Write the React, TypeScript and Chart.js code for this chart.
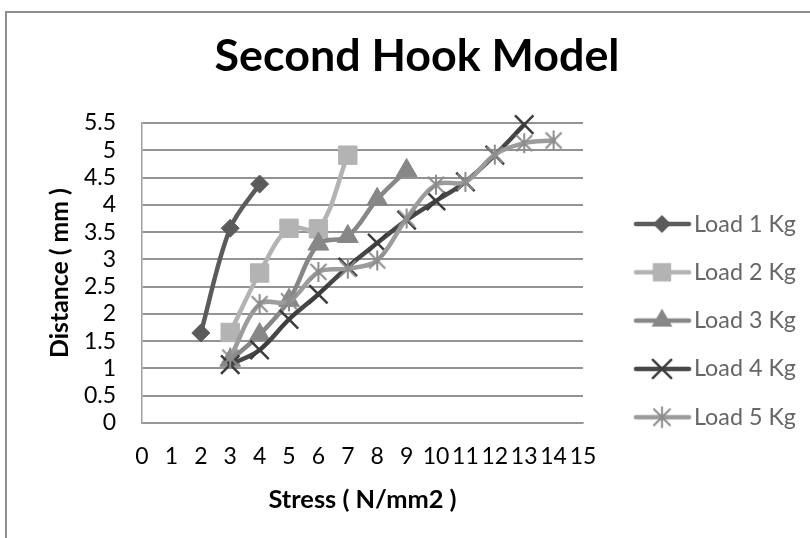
import React, { useEffect, useRef } from 'react';
import { Chart, registerables } from 'chart.js';

Chart.register(...registerables);

const chartTitle = 'Second Hook Model';
const xAxisTitle = 'Stress ( N/mm2 )';
const yAxisTitle = 'Distance ( mm )';

const stressTicks = [0, 1, 2, 3, 4, 5, 6, 7, 8, 9, 10, 11, 12, 13, 14, 15];
const distanceTicks = [0, 0.5, 1, 1.5, 2, 2.5, 3, 3.5, 4, 4.5, 5, 5.5];

const seriesNames = ['Load 1 Kg', 'Load 2 Kg', 'Load 3 Kg', 'Load 4 Kg', 'Load 5 Kg'];

const load1Stress = [2, 3, 4];
const load1Distance = [1.65, 3.57, 4.38];
const load2Stress = [3, 4, 5, 6, 7];
const load2Distance = [1.66, 2.75, 3.57, 3.56, 4.91];
const load3Stress = [3, 4, 5, 6, 7, 8, 9];
const load3Distance = [1.15, 1.62, 2.25, 3.28, 3.42, 4.1, 4.63];
const load4Stress = [3, 4, 5, 6, 7, 8, 9, 10, 11, 12, 13];
const load4Distance = [1.07, 1.34, 1.9, 2.36, 2.86, 3.3, 3.72, 4.07, 4.42, 4.91, 5.47];
const load5Stress = [3, 4, 5, 6, 7, 8, 9, 10, 11, 12, 13, 14];
const load5Distance = [1.2, 2.18, 2.23, 2.77, 2.83, 2.98, 3.75, 4.37, 4.42, 4.92, 5.13, 5.18];

const seriesStress = [load1Stress, load2Stress, load3Stress, load4Stress, load5Stress];
const seriesDistance = [load1Distance, load2Distance, load3Distance, load4Distance, load5Distance];

const lineColors = ['#5b5b5b', '#b3b3b3', '#878787', '#474747', '#9c9c9c'];
const markerColors = ['#5b5b5b', '#b3b3b3', '#878787', '#3c3c3c', '#8c8c8c'];
const markerKinds = ['diamond', 'square', 'triangle', 'x', 'asterisk'];

const FONT = 'Lato';
const W = 810;
const H = 538;
const plotLeft = 142;
const plotRight = 583;
const plotTop = 123;
const plotBottom = 423;

function drawMarker(ctx: CanvasRenderingContext2D, kind: string, cx: number, cy: number, color: string) {
  ctx.save();
  ctx.fillStyle = color;
  ctx.strokeStyle = color;
  ctx.beginPath();
  if (kind === 'diamond') {
    const r = 9;
    ctx.moveTo(cx - r, cy);
    ctx.lineTo(cx, cy - r);
    ctx.lineTo(cx + r, cy);
    ctx.lineTo(cx, cy + r);
    ctx.closePath();
    ctx.fill();
  } else if (kind === 'square') {
    const s = 13 * Math.SQRT1_2;
    ctx.rect(cx - s, cy - s, 2 * s, 2 * s);
    ctx.fill();
  } else if (kind === 'triangle') {
    const r = 12;
    let a = 0;
    ctx.moveTo(cx + Math.sin(a) * r, cy - Math.cos(a) * r);
    a += (2 * Math.PI) / 3;
    ctx.lineTo(cx + Math.sin(a) * r, cy - Math.cos(a) * r);
    a += (2 * Math.PI) / 3;
    ctx.lineTo(cx + Math.sin(a) * r, cy - Math.cos(a) * r);
    ctx.closePath();
    ctx.fill();
  } else if (kind === 'x') {
    const h = 13 * Math.SQRT1_2;
    ctx.lineWidth = 2.5;
    ctx.moveTo(cx - h, cy - h);
    ctx.lineTo(cx + h, cy + h);
    ctx.moveTo(cx + h, cy - h);
    ctx.lineTo(cx - h, cy + h);
    ctx.stroke();
  } else {
    const h = 8;
    ctx.lineWidth = 2;
    ctx.moveTo(cx - h, cy - h);
    ctx.lineTo(cx + h, cy + h);
    ctx.moveTo(cx + h, cy - h);
    ctx.lineTo(cx - h, cy + h);
    ctx.moveTo(cx, cy - 10);
    ctx.lineTo(cx, cy + 10);
    ctx.stroke();
  }
  ctx.restore();
}

export default function App() {
  const ref = useRef<HTMLCanvasElement>(null);

  useEffect(() => {
    const canvas = ref.current;
    if (!canvas) return;

    const mctx = document.createElement('canvas').getContext('2d') as CanvasRenderingContext2D;
    const measure = (text: string, font: string) => {
      mctx.font = font;
      return mctx.measureText(text).width;
    };

    const titleFs = Math.round((405 / measure(chartTitle, `bold 100px ${FONT}`)) * 1000) / 10;
    const legendFs = Math.round((102 / measure('Load 1 Kg', `100px ${FONT}`)) * 1000) / 10;
    const yTitleFs = Math.round((170 / measure(yAxisTitle, `bold 100px ${FONT}`)) * 1000) / 10;
    const xTitleFs = Math.round((188 / measure(xAxisTitle, `bold 100px ${FONT}`)) * 1000) / 10;
    const tickFs = 23;

    // legend geometry
    const legendSpacing = 48.3;
    const P = legendSpacing - legendFs;
    const textW = Math.max(...seriesNames.map((n) => measure(n, `${legendFs}px ${FONT}`)));
    const x0 = plotRight + P;
    const boxW = 694 - legendFs / 2 - x0;
    const legendWidth = P + boxW + legendFs / 2 + textW + 10;
    const R = W - plotRight - legendWidth;
    const L = R + 2 * 417 - W;
    const legendTitleH = 224 - P - legendFs / 2;

    const boxCenter = x0 + boxW / 2;
    const iw = Math.ceil(2 * (692 - boxCenter));
    const imgLeft = boxCenter - iw / 2;
    const legendImgs = seriesNames.map((_, i) => {
      const c = document.createElement('canvas');
      c.width = iw;
      c.height = 26;
      const g = c.getContext('2d') as CanvasRenderingContext2D;
      g.strokeStyle = lineColors[i];
      g.lineWidth = 4.5;
      g.lineCap = 'round';
      g.beginPath();
      g.moveTo(636 - imgLeft, 13);
      g.lineTo(689 - imgLeft, 13);
      g.stroke();
      drawMarker(g, markerKinds[i], 662 - imgLeft, 13, markerColors[i]);
      return c;
    });

    const asterisk = document.createElement('canvas');
    asterisk.width = 22;
    asterisk.height = 22;
    drawMarker(asterisk.getContext('2d') as CanvasRenderingContext2D, 'asterisk', 11, 11, markerColors[4]);

    const pointStyles: any[] = ['rectRot', 'rect', 'triangle', 'crossRot', asterisk];
    const pointRadii = [9, 13, 12, 13, 10];
    const pointBorderWidths = [1, 1, 1, 2.5, 1];

    const yAxisWidth = plotLeft - L;
    const yTitleLh = yTitleFs * 1.2;
    const xTitleLh = xTitleFs * 1.2;
    const titleLh = titleFs * 1.2;
    const titlePadTop = 57 - titleLh / 2;
    const titlePadBottom = plotTop - titlePadTop - titleLh;

    const chart = new Chart(canvas, {
      type: 'line',
      data: {
        datasets: seriesNames.map((name, i) => ({
          label: name,
          data: seriesStress[i].map((x, j) => ({ x, y: seriesDistance[i][j] })),
          borderColor: lineColors[i],
          backgroundColor: lineColors[i],
          borderWidth: 4.5,
          borderCapStyle: 'round',
          borderJoinStyle: 'round',
          tension: 0.35,
          fill: false,
          pointStyle: pointStyles[i],
          pointRadius: pointRadii[i],
          pointBorderWidth: pointBorderWidths[i],
          pointBackgroundColor: markerColors[i],
          pointBorderColor: markerColors[i],
          order: seriesNames.length - 1 - i,
          clip: false as any,
        })) as any,
      },
      options: {
        animation: false,
        responsive: false,
        maintainAspectRatio: false,
        events: [],
        layout: { padding: { left: L, right: R, top: 0, bottom: 0 } },
        scales: {
          x: {
            type: 'linear',
            min: stressTicks[0],
            max: stressTicks[stressTicks.length - 1],
            afterBuildTicks: (s: any) => {
              s.ticks = stressTicks.map((v) => ({ value: v }));
            },
            afterFit: (s: any) => {
              s.height = H - plotBottom;
            },
            grid: { display: false, drawTicks: false },
            border: { display: true, color: '#999999', width: 1.5 },
            ticks: {
              autoSkip: false,
              maxRotation: 0,
              padding: 457 - plotBottom - (tickFs * 1.2) / 2,
              color: '#000',
              font: { family: FONT, size: tickFs },
              callback: (v: any) => String(v),
            },
            title: {
              display: true,
              text: xAxisTitle,
              color: '#000',
              font: { family: FONT, size: xTitleFs, weight: 'bold' },
              padding: { top: 0, bottom: H - 500 - xTitleLh / 2 },
            },
          },
          y: {
            type: 'linear',
            min: distanceTicks[0],
            max: distanceTicks[distanceTicks.length - 1],
            afterBuildTicks: (s: any) => {
              s.ticks = distanceTicks.map((v) => ({ value: v }));
            },
            afterFit: (s: any) => {
              s.width = yAxisWidth;
            },
            grid: { color: '#939393', lineWidth: 2, drawTicks: false },
            border: { display: true, color: '#a0a0a0', width: 1.5 },
            ticks: {
              autoSkip: false,
              padding: 26,
              color: '#000',
              font: { family: FONT, size: tickFs },
              callback: (v: any) => String(v),
            },
            title: {
              display: true,
              text: yAxisTitle,
              color: '#000',
              font: { family: FONT, size: yTitleFs, weight: 'bold' },
              padding: { top: 60 - L - yTitleLh / 2, bottom: 0 },
            },
          },
        },
        plugins: {
          title: {
            display: true,
            text: chartTitle,
            color: '#000',
            font: { family: FONT, size: titleFs, weight: 'bold' },
            padding: { top: titlePadTop, bottom: titlePadBottom },
          },
          legend: {
            display: true,
            position: 'right',
            align: 'start',
            maxWidth: 400,
            title: {
              display: true,
              text: '',
              font: { family: FONT, size: 10 },
              padding: { top: 0, bottom: legendTitleH - 12 },
            },
            labels: {
              usePointStyle: true,
              pointStyleWidth: boxW,
              padding: P,
              color: '#000',
              font: { family: FONT, size: legendFs },
              generateLabels: () =>
                seriesNames.map((name, i) => ({
                  text: name,
                  pointStyle: legendImgs[i] as any,
                  fillStyle: lineColors[i],
                  strokeStyle: lineColors[i],
                  lineWidth: 0,
                  hidden: false,
                  datasetIndex: i,
                })),
            },
          },
          tooltip: { enabled: false },
        },
      } as any,
    });

    return () => chart.destroy();
  }, []);

  return (
    <div style={{ position: 'fixed', left: 0, top: 0, width: W, height: H, overflow: 'hidden', background: '#fff' }}>
      <canvas ref={ref} width={W} height={H} style={{ position: 'absolute', left: 0, top: 0, width: W, height: H }} />
      <div
        style={{
          position: 'absolute',
          left: 5,
          top: 11,
          width: 830,
          height: 560,
          border: '2px solid #8e8e8e',
          boxSizing: 'border-box',
          pointerEvents: 'none',
        }}
      />
    </div>
  );
}
